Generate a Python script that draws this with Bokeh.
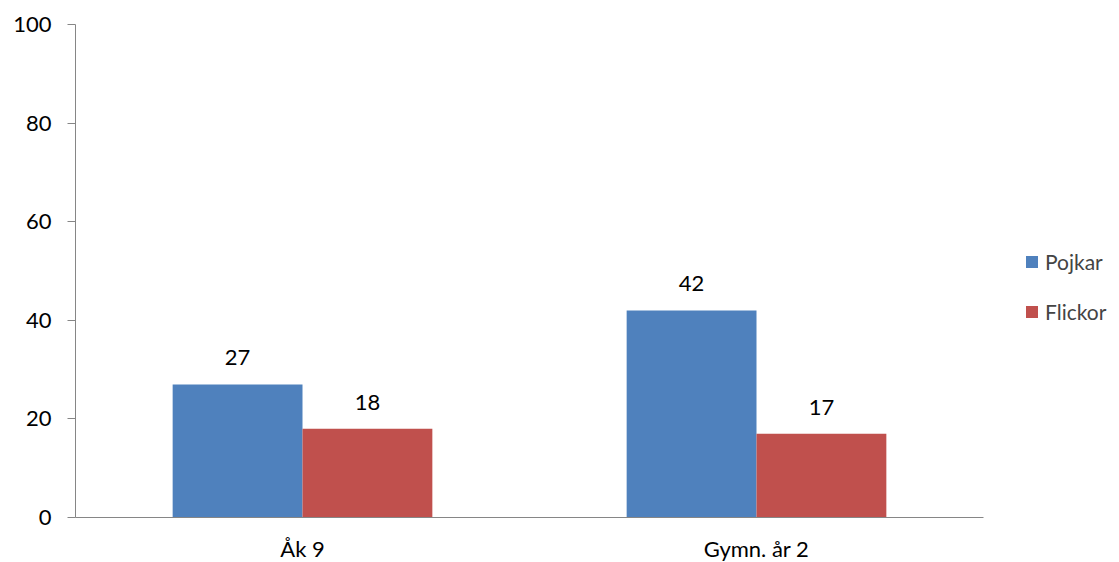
from bokeh.plotting import figure
from bokeh.models import ColumnDataSource, Range1d, FixedTicker, Legend, LegendItem
from bokeh.core.properties import value
from bokeh.embed import file_html
from bokeh.resources import INLINE

categories = ["Åk 9", "Gymn. år 2"]
pojkar = [27, 42]
flickor = [18, 17]
series_names = ["Pojkar", "Flickor"]
y_ticks = [0, 20, 40, 60, 80, 100]

FONT = "Lato"
BLUE = "#4F81BD"
RED = "#C0504D"
AXIS = "#868686"

p = figure(frame_width=908, frame_height=493, output_backend="svg", toolbar_location=None,
           x_range=Range1d(0, len(categories)), y_range=Range1d(0, 100),
           min_border_left=75, min_border_right=136, min_border_top=24, min_border_bottom=45)
p.outline_line_color = None
p.xgrid.visible = False
p.ygrid.visible = False

centers = [i + 0.5 for i in range(len(categories))]
off = 0.143
w = 0.286
src_p = ColumnDataSource(dict(x=[c - off for c in centers], top=pojkar, lbl=[str(v) for v in pojkar]))
src_f = ColumnDataSource(dict(x=[c + off for c in centers], top=flickor, lbl=[str(v) for v in flickor]))

rp = p.vbar(x="x", top="top", width=w, bottom=0, source=src_p, fill_color=BLUE, line_color=None)
rf = p.vbar(x="x", top="top", width=w, bottom=0, source=src_f, fill_color=RED, line_color=None)

for src in (src_p, src_f):
    p.text(x="x", y="top", text="lbl", source=src, text_align="center", text_baseline="bottom",
           y_offset=-19, text_font=value(FONT), text_font_size="22px", text_color="black")

# axes
p.yaxis.ticker = FixedTicker(ticks=y_ticks)
p.yaxis.minor_tick_line_color = None
p.yaxis.major_tick_out = 8
p.yaxis.major_tick_in = 0
p.yaxis.axis_line_color = AXIS
p.yaxis.major_tick_line_color = AXIS
p.yaxis.major_label_text_font = FONT
p.yaxis.major_label_text_font_size = "22px"
p.yaxis.major_label_text_color = "black"
p.yaxis.major_label_standoff = 16

p.xaxis.ticker = FixedTicker(ticks=centers)
p.xaxis.major_label_overrides = {c: lab for c, lab in zip(centers, categories)}
p.xaxis.major_tick_line_color = None
p.xaxis.minor_tick_line_color = None
p.xaxis.axis_line_color = AXIS
p.xaxis.major_label_text_font = FONT
p.xaxis.major_label_text_font_size = "22px"
p.xaxis.major_label_text_color = "black"
p.xaxis.major_label_standoff = 11

legend = Legend(items=[LegendItem(label=series_names[0], renderers=[rp]),
                       LegendItem(label=series_names[1], renderers=[rf])],
                location=(41, 193), padding=0, margin=0, spacing=25,
                glyph_width=15, glyph_height=15, label_height=22,
                label_text_font=FONT, label_text_font_size="21px",
                label_standoff=6, border_line_color=None, background_fill_alpha=0)
p.add_layout(legend, "right")

open("out.html", "w").write(file_html(p, INLINE))
